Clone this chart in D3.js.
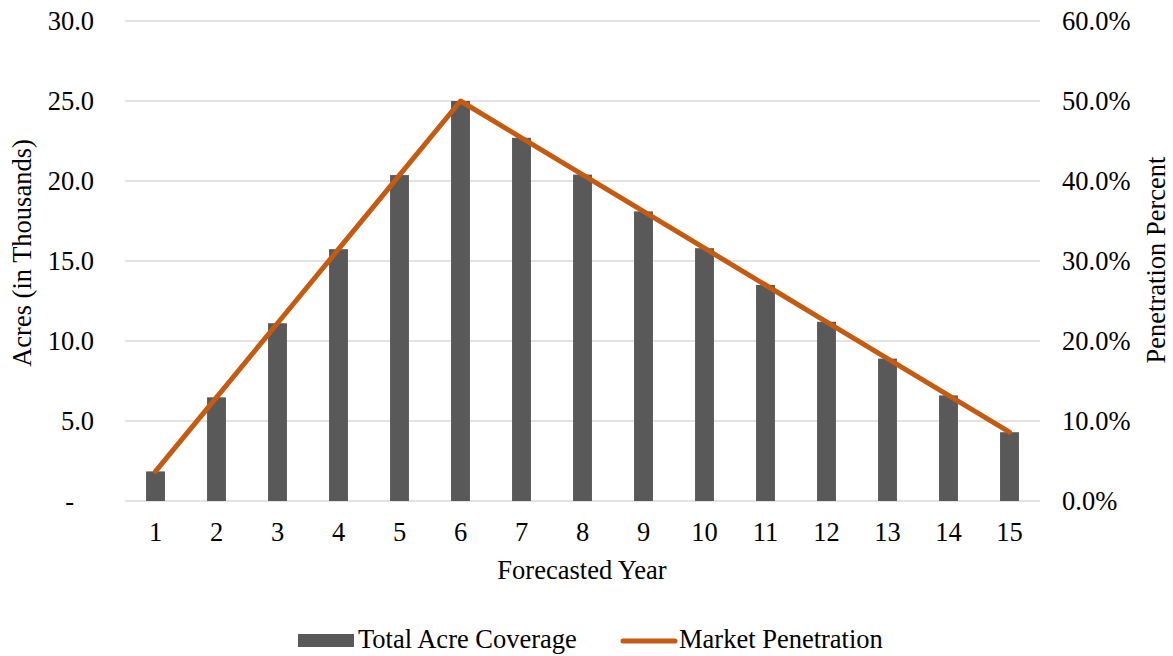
<!DOCTYPE html>
<html>
<head>
<meta charset="utf-8">
<script src="https://cdn.jsdelivr.net/npm/d3@7"></script>
<style>
  html, body { margin: 0; padding: 0; background: #fff; }
  svg text { font-family: "Times New Roman", "Liberation Serif", "DejaVu Serif", serif; }
</style>
</head>
<body>
<svg id="chart" width="1173" height="656"></svg>
<script>
// Forecast data
const years = [1, 2, 3, 4, 5, 6, 7, 8, 9, 10, 11, 12, 13, 14, 15];
const acres = [1.85, 6.48, 11.11, 15.74, 20.37, 25.0, 22.7, 20.4, 18.1, 15.8, 13.5, 11.2, 8.9, 6.6, 4.3]; // thousands
const penetration = [3.7, 12.96, 22.22, 31.48, 40.74, 50.0, 45.4, 40.8, 36.2, 31.6, 27.0, 22.4, 17.8, 13.2, 8.6]; // percent
const leftTicks = [0, 5, 10, 15, 20, 25, 30];
const rightTicks = [0, 10, 20, 30, 40, 50, 60];

const FS = 26.5;
const svg = d3.select("#chart");
const m = { left: 125, right: 1040, top: 21, bottom: 501 };

const x = d3.scaleBand().domain(years).range([m.left, m.right]).paddingInner(0.69).paddingOuter(0.345);
const yL = d3.scaleLinear().domain([0, 30]).range([m.bottom, m.top]);
const yR = d3.scaleLinear().domain([0, 60]).range([m.bottom, m.top]);

// Gridlines
svg.append("g").selectAll("line").data(leftTicks).join("line")
  .attr("x1", m.left).attr("x2", m.right)
  .attr("y1", d => yL(d)).attr("y2", d => yL(d))
  .attr("stroke", "#d9d9d9").attr("stroke-width", 1.3);

function styleAxis(g) {
  g.select(".domain").remove();
  g.attr("font-family", null).attr("font-size", null);
  g.selectAll("text").attr("font-size", FS).attr("fill", "#000");
}

// Left axis
const leftAxis = d3.axisLeft(yL).tickValues(leftTicks).tickSize(0).tickPadding(31)
  .tickFormat(d => d === 0 ? "-" : d3.format(".1f")(d));
const gl = svg.append("g").attr("transform", `translate(${m.left},0)`).call(leftAxis).call(styleAxis);
gl.selectAll("text").filter(d => d === 0).attr("dx", -20);

// Right axis
const rightAxis = d3.axisRight(yR).tickValues(rightTicks).tickSize(0).tickPadding(22)
  .tickFormat(d => d3.format(".1f")(d) + "%");
svg.append("g").attr("transform", `translate(${m.right},0)`).call(rightAxis).call(styleAxis);

// Bottom axis
const bottomAxis = d3.axisBottom(x).tickSize(0).tickPadding(21);
svg.append("g").attr("transform", `translate(0,${m.bottom})`).call(bottomAxis).call(styleAxis);

// Bars
svg.append("g").selectAll("rect").data(years).join("rect")
  .attr("x", (d) => x(d))
  .attr("width", x.bandwidth())
  .attr("y", (d, i) => yL(acres[i]))
  .attr("height", (d, i) => yL(0) - yL(acres[i]))
  .attr("fill", "#595959");

// Penetration line
const line = d3.line().x((d, i) => x(years[i]) + x.bandwidth() / 2).y(d => yR(d));
svg.append("path").datum(penetration)
  .attr("d", line)
  .attr("fill", "none").attr("stroke", "#c55a11").attr("stroke-width", 5)
  .attr("stroke-linecap", "round").attr("stroke-linejoin", "round");

// Axis titles
svg.append("text").attr("x", 582).attr("y", 579).attr("text-anchor", "middle")
  .attr("font-size", FS).text("Forecasted Year");
svg.append("text").attr("transform", "translate(31,253) rotate(-90)").attr("text-anchor", "middle")
  .attr("font-size", FS).text("Acres (in Thousands)");
svg.append("text").attr("transform", "translate(1165,260) rotate(-90)").attr("text-anchor", "middle")
  .attr("font-size", FS).text("Penetration Percent");

// Legend
const lg = svg.append("g");
lg.append("rect").attr("x", 298).attr("y", 634).attr("width", 56).attr("height", 13).attr("fill", "#595959");
lg.append("text").attr("x", 358).attr("y", 648).attr("font-size", FS).text("Total Acre Coverage");
lg.append("line").attr("x1", 623).attr("x2", 675).attr("y1", 641).attr("y2", 641)
  .attr("stroke", "#c55a11").attr("stroke-width", 5).attr("stroke-linecap", "round");
lg.append("text").attr("x", 679).attr("y", 648).attr("font-size", FS).text("Market Penetration");
</script>
</body>
</html>
